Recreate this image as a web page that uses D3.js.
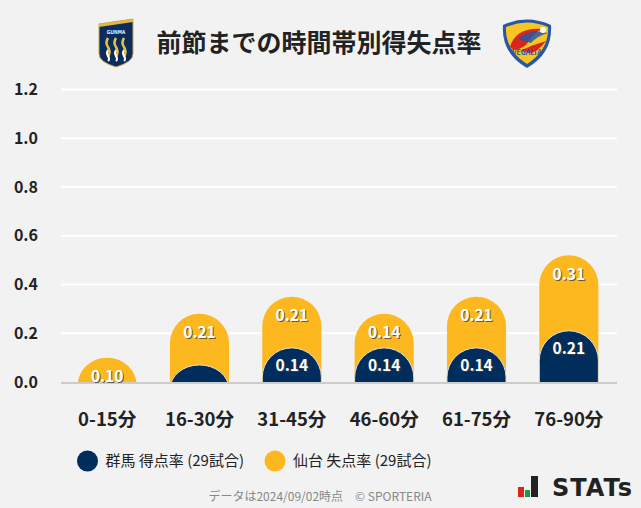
<!DOCTYPE html>
<html><head><meta charset="utf-8">
<script src="https://cdn.jsdelivr.net/npm/d3@7/dist/d3.min.js"></script>
<style>
html,body{margin:0;padding:0;background:#f2f2f2;}
svg{display:block;font-family:"Noto Sans CJK JP","Noto Sans",sans-serif;}
</style></head><body>
<svg id="c" width="641" height="508"></svg>
<script>
const categories = ["0-15分","16-30分","31-45分","46-60分","61-75分","76-90分"];
const gunmaScored = [0, 0.07, 0.14, 0.14, 0.14, 0.21];
const sendaiConceded = [0.10, 0.21, 0.21, 0.14, 0.21, 0.31];
const yTicks = [0, 0.2, 0.4, 0.6, 0.8, 1.0, 1.2];
const seriesNames = ["群馬 得点率 (29試合)", "仙台 失点率 (29試合)"];
const colors = ["#002d5b", "#fdb81f"];

const svg = d3.select("#c");
const W = 641, H = 508;
svg.append("rect").attr("width",W).attr("height",H).attr("fill","#f2f2f2");

const x = d3.scaleBand().domain(categories).range([61, 615]).paddingInner(0.36).paddingOuter(0.18);
const y = d3.scaleLinear().domain([0, 1.2]).range([382, 89.5]);

// grid
svg.append("g").selectAll("line").data(yTicks.filter(d=>d>0)).join("line")
  .attr("x1",61).attr("x2",617).attr("y1",d=>y(d)).attr("y2",d=>y(d))
  .attr("stroke","#ffffff").attr("stroke-width",2);

// y axis labels
const yAxis = d3.axisLeft(y).tickValues(yTicks).tickFormat(d3.format(".1f")).tickSize(0).tickPadding(0);
const ya = svg.append("g").attr("transform","translate(38,0)").call(yAxis);
ya.select(".domain").remove();
ya.selectAll("text").attr("font-size",16).attr("font-weight","bold").attr("fill","#222")
  .attr("font-family","'Noto Sans CJK JP','Noto Sans',sans-serif");

// clip at baseline
svg.append("defs").append("clipPath").attr("id","clip")
  .append("rect").attr("x",0).attr("y",0).attr("width",W).attr("height",y(0));

const bw = x.bandwidth();
const r = bw/2;
const data = categories.map((c,i)=>({c, g:gunmaScored[i], s:sendaiConceded[i], tot:gunmaScored[i]+sendaiConceded[i]}));

const bars = svg.append("g").attr("clip-path","url(#clip)");
// yellow (stack total)
bars.selectAll("rect.s").data(data).join("rect").attr("class","s")
  .attr("x",d=>x(d.c)).attr("width",bw)
  .attr("y",d=>y(d.tot)).attr("height",d=>y(0)-y(d.tot)+r+2)
  .attr("rx",r).attr("ry",r).attr("fill",colors[1]);
// navy
bars.selectAll("rect.g").data(data.filter(d=>d.g>0)).join("rect").attr("class","g")
  .attr("x",d=>x(d.c)).attr("width",bw)
  .attr("y",d=>y(d.g)).attr("height",d=>y(0)-y(d.g)+r+2)
  .attr("rx",r).attr("ry",r).attr("fill",colors[0])
  .attr("stroke","#e8e0d0").attr("stroke-width",1);

// baseline
svg.append("line").attr("x1",61).attr("x2",617).attr("y1",y(0)+1).attr("y2",y(0)+1)
  .attr("stroke","#cccccc").attr("stroke-width",2);

// value labels
const lab = svg.append("g").attr("font-size",15.5).attr("font-weight","bold").attr("fill","#fff")
  .attr("text-anchor","middle");
function addLabel(cx, cy, t){
  lab.append("text").attr("x",cx+1).attr("y",cy+1).attr("dy","0.35em").attr("fill","#444").attr("opacity",0.8).text(t);
  lab.append("text").attr("x",cx).attr("y",cy).attr("dy","0.35em").text(t);
}
data.forEach(d=>{
  addLabel(x(d.c)+bw/2, y(d.tot)+19, d.s.toFixed(2));
  if (d.g >= 0.1) addLabel(x(d.c)+bw/2, y(d.g)+18, d.g.toFixed(2));
});

// x labels
const xAxis = d3.axisBottom(x).tickSize(0).tickPadding(0);
const xa = svg.append("g").attr("transform","translate(0,420)").call(xAxis);
xa.select(".domain").remove();
xa.selectAll("text").attr("font-size",18.5).attr("font-weight","bold").attr("fill","#222")
  .attr("dy","0.35em").attr("font-family","'Noto Sans CJK JP','Noto Sans',sans-serif");

// title
svg.append("text").attr("x",319).attr("y",43).attr("dy","0.35em").attr("text-anchor","middle")
  .attr("font-size",25).attr("font-weight","bold").attr("fill","#222").text("前節までの時間帯別得失点率");

// Gunma logo
const gl = svg.append("g").attr("transform","translate(99,19)");
gl.append("path").attr("d","M0,5 L34,0 L34,35 Q34,43 17,48 Q0,43 0,35 Z").attr("fill","#0d2c5e").attr("stroke","#c9a94a").attr("stroke-width",1);
gl.append("path").attr("d","M0,5 L34,0 L34,3 L0,8 Z").attr("fill","#e0b840");
gl.append("text").attr("x",17).attr("y",15).attr("text-anchor","middle").attr("font-size",5).attr("fill","#fff").attr("font-weight","bold").text("GUNMA");
[9,17,25].forEach(cx=>{
  gl.append("path").attr("d",`M${cx},19 q-3,5 0,9 q3,5 0,10`).attr("stroke","#e8c040").attr("stroke-width",2.5).attr("fill","none");
  gl.append("path").attr("d",`M${cx},31 q-2,3 0,6 q2,3 0,5`).attr("stroke","#fff").attr("stroke-width",2).attr("fill","none");
});

// Vegalta logo
const vl = svg.append("g").attr("transform","translate(502,17)");
vl.append("path").attr("d","M1,8 Q25,-3 49,8 Q51,36 25,51 Q-1,36 1,8 Z").attr("fill","#2757a6");
vl.append("path").attr("d","M4,10 Q25,1 46,10 Q47,33 25,47 Q3,33 4,10 Z").attr("fill","#f7c623");
vl.append("path").attr("d","M8,30 Q14,10 40,12 Q31,17 27,24 Q22,32 12,33 Z").attr("fill","#d9261c");
vl.append("path").attr("d","M16,22 Q27,11 46,16 Q35,19 29,26 Z").attr("fill","#2757a6").attr("opacity",0.85);
vl.append("path").attr("d","M18,34 Q30,28 44,24 Q38,32 30,36 Z").attr("fill","#d9261c");
vl.append("circle").attr("cx",41).attr("cy",13).attr("r",3).attr("fill","#fff");
vl.append("text").attr("x",25).attr("y",38).attr("text-anchor","middle").attr("font-size",7).attr("font-weight","bold").attr("fill","#2757a6").text("VEGALTA");

// legend
const lg = svg.append("g");
[0,1].forEach(i=>{
  const lx = i===0 ? 87.5 : 275;
  lg.append("circle").attr("cx",lx).attr("cy",461).attr("r",10.5).attr("fill",colors[i]);
  lg.append("text").attr("x",lx+18).attr("y",461).attr("dy","0.35em").attr("font-size",15).attr("fill","#222").text(seriesNames[i]);
});

// footer
svg.append("text").attr("x",320).attr("y",497).attr("dy","0.35em").attr("text-anchor","middle")
  .attr("font-size",12).attr("fill","#888").text("データは2024/09/02時点　© SPORTERIA");

// STATs logo
const sl = svg.append("g");
sl.append("rect").attr("x",518).attr("y",487).attr("width",6).attr("height",10).attr("fill","#d9261c");
sl.append("rect").attr("x",525).attr("y",490).attr("width",5).attr("height",7).attr("fill","#1a9a48");
sl.append("rect").attr("x",531).attr("y",476).attr("width",7).attr("height",21).attr("fill","#222");
sl.append("text").attr("x",552).attr("y",487).attr("dy","0.36em").attr("font-family","'DejaVu Sans',sans-serif")
  .attr("font-size",24).attr("font-weight","bold").attr("fill","#222").attr("letter-spacing",1).text("STATs");
</script>
</body></html>
